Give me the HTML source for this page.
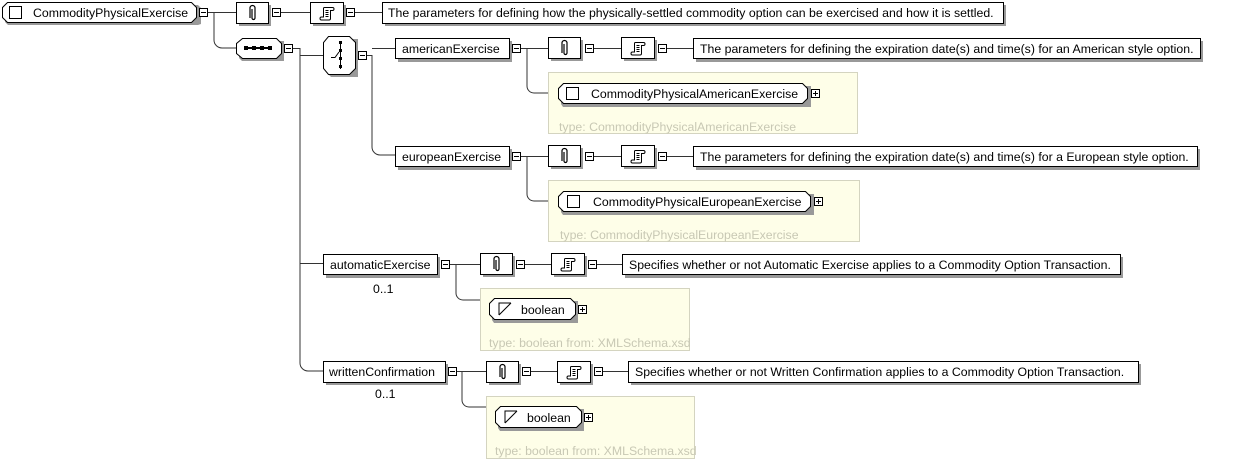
<!DOCTYPE html>
<html><head><meta charset="utf-8"><style>
html,body{margin:0;padding:0;background:#fff;width:1244px;height:460px;overflow:hidden}
svg text{font-family:"Liberation Sans",Arial,sans-serif;font-size:12.3px;fill:#000}
.t{fill:#c8c8b4 !important}
</style></head><body>
<svg width="1244" height="460" viewBox="0 0 1244 460" xmlns="http://www.w3.org/2000/svg">
<defs>
<g id="mn"><rect x="0.5" y="0.5" width="8" height="8" fill="#fff" stroke="#000"/><line x1="2" y1="4.5" x2="7" y2="4.5" stroke="#000"/></g>
<g id="pl"><rect x="0.5" y="0.5" width="8" height="8" fill="#fff" stroke="#000"/><line x1="2" y1="4.5" x2="7" y2="4.5" stroke="#000"/><line x1="4.5" y1="2" x2="4.5" y2="7" stroke="#000"/></g>
<g id="an"><rect x="3" y="3" width="32" height="21" fill="#999"/><rect x="0.5" y="0.5" width="32" height="21" fill="#fff" stroke="#000"/>
<path d="M14 16 V6 a2.5 2.5 0 0 1 5 0 V16 a1.5 1.5 0 0 1 -3 0 V7" fill="none" stroke="#000" stroke-width="1.2"/></g>
<g id="dc"><rect x="3" y="3" width="33" height="21" fill="#999"/><rect x="0.5" y="0.5" width="33" height="21" fill="#fff" stroke="#000"/>
<path d="M14.5 5.5 H22.5 a1.5 1.5 0 0 1 0 3 H20.5 V16.5 a1.5 1.5 0 0 1 -1.5 1.5 H11.5 a1.5 1.5 0 0 1 0 -3 H13.5 V6.5 a1 1 0 0 1 1 -1 M15.5 8.5h3 M15.5 10.5h3 M15.5 12.5h3 M15.5 14.5h3" fill="none" stroke="#000"/></g>
</defs>
<g stroke="#333" fill="none">
<path d="M208 12.5H236 M280 12.5H310 M354 12.5H382"/>
<path d="M208 12.5H214V40a8 8 0 0 0 8 8H236"/>
<path d="M292 48.5H300V363a8 8 0 0 0 8 8H323 M300 55.5H323 M300 263.5H323"/>
<path d="M366 55.5H372V147a8 8 0 0 0 8 8H395 M372 48.5H395"/>
<path d="M520 48.5H548 M593 48.5H621 M666 48.5H693 M520 48.5H527V86a7 7 0 0 0 7 7H548"/>
<path d="M520 156.5H548 M593 156.5H621 M666 156.5H693 M520 156.5H527V194a7 7 0 0 0 7 7H548"/>
<path d="M449 264.5H480 M524 264.5H551 M596 264.5H622 M449 264.5H456V293a7 7 0 0 0 7 7H480"/>
<path d="M456 371.5H486 M530 371.5H557 M602 371.5H628 M456 371.5H462V400a7 7 0 0 0 7 7H486"/>
</g>
<polygon points="8,5 198,5 201,8 201,24 198,25 8,25 5,22 5,8" fill="#999"/>
<polygon points="7.5,2.5 191.5,2.5 196.5,7.5 196.5,17.5 191.5,22.5 7.5,22.5 2.5,17.5 2.5,7.5" fill="#fff" stroke="#000"/>
<rect x="9.5" y="6.5" width="12" height="12" fill="#fff" stroke="#000"/>
<text x="33" y="17">CommodityPhysicalExercise</text>
<use href="#mn" x="199" y="8"/>
<use href="#an" x="236" y="2"/><use href="#mn" x="272" y="8"/>
<use href="#dc" x="310" y="2"/><use href="#mn" x="346" y="8"/>
<rect x="385" y="5" width="621" height="21" fill="#999"/><rect x="382.5" y="2.5" width="621" height="21" fill="#fff" stroke="#000"/>
<text x="388" y="17">The parameters for defining how the physically-settled commodity option can be exercised and how it is settled.</text>
<polygon points="242,41 284,41 284,61 242,61 239,58 239,44" fill="#999"/>
<polygon points="242.5,38.5 276.5,38.5 281.5,43.5 281.5,53.5 276.5,58.5 242.5,58.5 236.5,53.5 236.5,43.5" fill="#fff" stroke="#000"/>
<g fill="#000"><rect x="244" y="46" width="4" height="4"/><rect x="252" y="46" width="4" height="4"/><rect x="260" y="46" width="4" height="4"/><rect x="268" y="46" width="4" height="4"/><rect x="244" y="47" width="28" height="2"/></g>
<use href="#mn" x="284" y="44"/>
<polygon points="331,39 358,39 358,77 331,77 326,72 326,44" fill="#999"/>
<polygon points="328.5,36.5 349.5,36.5 355.5,42.5 355.5,68.5 349.5,74.5 328.5,74.5 323.5,68.5 323.5,42.5" fill="#fff" stroke="#000"/>
<g fill="#000"><rect x="340" y="41" width="1" height="28"/><rect x="339" y="41" width="3" height="3"/><rect x="339" y="49" width="3" height="3"/><rect x="339" y="57" width="3" height="3"/><rect x="339" y="65" width="3" height="3"/></g>
<path d="M331 57.5H335L339 52" stroke="#000" fill="none"/>
<use href="#mn" x="358" y="51"/>
<rect x="398" y="41" width="114" height="21" fill="#999"/><rect x="395.5" y="38.5" width="114" height="20" fill="#fff" stroke="#000"/>
<text x="402" y="53">americanExercise</text><use href="#mn" x="512" y="44"/>
<use href="#an" x="548" y="37"/><use href="#mn" x="585" y="44"/>
<use href="#dc" x="621" y="37"/><use href="#mn" x="658" y="44"/>
<rect x="696" y="41" width="507" height="21" fill="#999"/><rect x="693.5" y="38.5" width="507" height="20" fill="#fff" stroke="#000"/>
<text x="700" y="53">The parameters for defining the expiration date(s) and time(s) for an American style option.</text>
<rect x="548.5" y="72.5" width="309" height="61" fill="#fefee8" stroke="#d4d4c0"/>
<polygon points="563,86 811,86 811,107 563,107 561,104 561,89" fill="#999"/>
<polygon points="563.5,83.5 802.5,83.5 807.5,88.5 807.5,98.5 802.5,103.5 563.5,103.5 558.5,98.5 558.5,88.5" fill="#fff" stroke="#000"/>
<rect x="566.5" y="87.5" width="12" height="12" fill="#fff" stroke="#000"/>
<text x="591" y="98">CommodityPhysicalAmericanExercise</text><use href="#pl" x="811" y="89"/>
<text class="t" x="559" y="131">type: CommodityPhysicalAmericanExercise</text>
<rect x="398" y="149" width="114" height="21" fill="#999"/><rect x="395.5" y="146.5" width="114" height="20" fill="#fff" stroke="#000"/>
<text x="402" y="161">europeanExercise</text><use href="#mn" x="512" y="152"/>
<use href="#an" x="548" y="145"/><use href="#mn" x="585" y="152"/>
<use href="#dc" x="621" y="145"/><use href="#mn" x="658" y="152"/>
<rect x="696" y="149" width="504" height="21" fill="#999"/><rect x="693.5" y="146.5" width="504" height="20" fill="#fff" stroke="#000"/>
<text x="700" y="161">The parameters for defining the expiration date(s) and time(s) for a European style option.</text>
<rect x="548.5" y="180.5" width="311" height="61" fill="#fefee8" stroke="#d4d4c0"/>
<polygon points="563,194 814,194 814,215 563,215 561,212 561,197" fill="#999"/>
<polygon points="563.5,191.5 805.5,191.5 810.5,196.5 810.5,206.5 805.5,211.5 563.5,211.5 558.5,206.5 558.5,196.5" fill="#fff" stroke="#000"/>
<rect x="567.5" y="195.5" width="12" height="12" fill="#fff" stroke="#000"/>
<text x="593" y="206">CommodityPhysicalEuropeanExercise</text><use href="#pl" x="814" y="197"/>
<text class="t" x="560" y="239">type: CommodityPhysicalEuropeanExercise</text>
<rect x="326" y="257" width="114" height="21" fill="#999"/><rect x="323.5" y="254.5" width="114" height="20" fill="#fff" stroke="#000"/>
<text x="330" y="269">automaticExercise</text><use href="#mn" x="441" y="260"/>
<text x="373" y="293">0..1</text>
<use href="#an" x="480" y="253"/><use href="#mn" x="516" y="260"/>
<use href="#dc" x="551" y="253"/><use href="#mn" x="588" y="260"/>
<rect x="625" y="257" width="498" height="21" fill="#999"/><rect x="622.5" y="254.5" width="498" height="20" fill="#fff" stroke="#000"/>
<text x="629" y="269">Specifies whether or not Automatic Exercise applies to a Commodity Option Transaction.</text>
<rect x="480.5" y="288.5" width="209" height="62" fill="#fefee8" stroke="#d4d4c0"/>
<polygon points="494,301 578,301 578,323 494,323 492,320 492,304" fill="#999"/>
<polygon points="494.5,298.5 570.5,298.5 575.5,303.5 575.5,314.5 570.5,319.5 494.5,319.5 489.5,314.5 489.5,303.5" fill="#fff" stroke="#000"/>
<path d="M499 315 L511 303 M499 315 V303 H511" stroke="#000" fill="none"/>
<text x="521" y="314">boolean</text><use href="#pl" x="578" y="305"/>
<text class="t" x="489" y="347">type: boolean from: XMLSchema.xsd</text>
<rect x="326" y="364" width="122" height="21" fill="#999"/><rect x="323.5" y="361.5" width="122" height="21" fill="#fff" stroke="#000"/>
<text x="329" y="376">writtenConfirmation</text><use href="#mn" x="448" y="367"/>
<text x="375" y="398">0..1</text>
<use href="#an" x="486" y="361"/><use href="#mn" x="522" y="367"/>
<use href="#dc" x="557" y="361"/><use href="#mn" x="594" y="367"/>
<rect x="631" y="364" width="510" height="21" fill="#999"/><rect x="628.5" y="361.5" width="510" height="21" fill="#fff" stroke="#000"/>
<text x="635" y="376">Specifies whether or not Written Confirmation applies to a Commodity Option Transaction.</text>
<rect x="486.5" y="396.5" width="208" height="62" fill="#fefee8" stroke="#d4d4c0"/>
<polygon points="500,409 584,409 584,431 500,431 498,428 498,412" fill="#999"/>
<polygon points="500.5,406.5 576.5,406.5 581.5,411.5 581.5,422.5 576.5,427.5 500.5,427.5 495.5,422.5 495.5,411.5" fill="#fff" stroke="#000"/>
<path d="M505 423 L517 411 M505 423 V411 H517" stroke="#000" fill="none"/>
<text x="527" y="422">boolean</text><use href="#pl" x="584" y="413"/>
<text class="t" x="495" y="455">type: boolean from: XMLSchema.xsd</text>
</svg>
</body></html>
